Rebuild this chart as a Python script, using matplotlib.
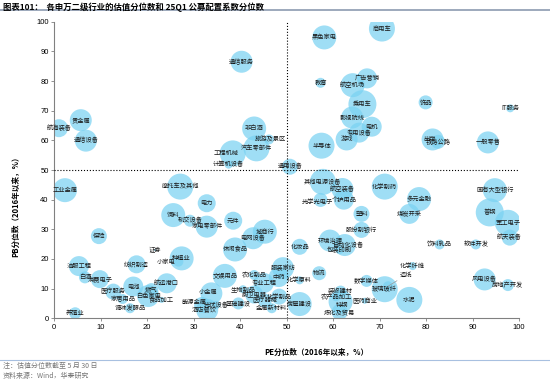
import matplotlib
matplotlib.use('Agg')
import matplotlib.pyplot as plt

plt.rcParams['font.family'] = ['Noto Sans CJK SC', 'DejaVu Sans']

# industry, PE pct, PB pct, bubble weight (fund allocation)
names = ['航海装备', '贵金属', '通信设备', '通信服务', '非白酒', '旅游及景区', '汽车零部件',
         '工程机械', '计算机设备', '通用设备', '黑色家电', '商用车', '教育', '广告营销',
         '航空机场', '乘用车', '饰品', 'IT服务', '影视院线', '电机', '专用设备', '游戏',
         '半导体', '出版', '铁路公路', '一般零售', '其他电源设备', '航空装备', '光学光电子',
         '个护用品', '化学制药', '多元金融', '国有大型银行', '塑料', '煤炭开采', '普钢',
         '军工电子', '股份制银行', '航天装备', '环境治理', '自动化设备', '包装印刷', '化妆品',
         '饮料乳品', '软件开发', '化学纤维', '物流', '造纸', '数字媒体', '玻璃玻纤', '水泥',
         '风电设备', '房地产开发', '装修建材', '农产品加工', '特钢', '医药商业', '炼化及贸易',
         '房屋建设', '化学原料', '服装家纺', '中药', '休闲食品', '文娱用品', '农化制品',
         '专业工程', '生物制品', '厨卫电器', '化学制品', '医疗器械', '基础建设', '金属新材料',
         '光伏设备', '能源金属', '小金属', '酒店餐饮', '工业金属', '摩托车及其他', '电力',
         '饲料', '轨交设备', '家电零部件', '元件', '城商行', '电网设备', '保险', '证券',
         '种植业', '小家电', '纺织制造', '油服工程', '白酒', '消费电子', '医疗服务',
         '家居用品', '电池', '燃气', '白色家电', '航运港口', '食品加工', '调味发酵品', '养殖业']
pe = [1.0, 5.7, 6.8, 40.3, 43.0, 46.2, 43.5,
      38.4, 37.5, 50.7, 58.1, 70.5, 57.3, 67.3,
      64.2, 66.3, 79.9, 98.1, 64.1, 68.3, 65.6, 62.9,
      57.5, 81.4, 82.6, 93.3, 57.8, 62.0, 57.3,
      62.3, 71.1, 78.5, 94.8, 66.1, 76.4, 93.7,
      97.6, 66.1, 98.0, 59.3, 62.5, 61.4, 52.8,
      82.9, 90.7, 77.1, 57.0, 71.8, 67.2, 71.1, 76.4,
      92.6, 97.6, 61.6, 60.6, 61.6, 66.8, 61.4,
      52.8, 52.8, 49.2, 48.3, 38.9, 36.7, 43.0,
      45.1, 40.6, 43.0, 48.4, 45.3, 39.6, 46.8,
      34.9, 31.8, 33.8, 32.9, 2.3, 27.1, 32.8,
      25.6, 29.2, 32.8, 38.5, 45.3, 42.8, 9.6, 21.7,
      27.4, 26.7, 17.7, 5.3, 6.6, 9.8, 12.7,
      14.7, 17.0, 20.9, 20.2, 24.2, 23.1, 16.3, 4.5]
pb = [64.1, 66.8, 59.9, 86.5, 64.0, 60.3, 57.3,
      55.6, 51.8, 51.1, 94.7, 97.7, 79.4, 80.9,
      78.6, 72.2, 72.8, 70.8, 67.7, 64.6, 62.6, 60.3,
      58.2, 60.3, 59.5, 59.3, 46.0, 43.6, 39.9,
      40.0, 44.4, 40.2, 43.2, 35.2, 35.2, 35.7,
      32.2, 29.8, 27.2, 26.2, 24.7, 23.0, 24.1,
      24.9, 24.9, 17.6, 15.2, 10.8, 12.6, 9.8, 6.2,
      13.1, 11.2, 9.0, 7.1, 5.6, 5.9, 2.1,
      4.8, 12.8, 16.9, 13.9, 23.2, 14.3, 14.6,
      11.9, 9.8, 8.0, 7.3, 6.0, 5.0, 3.4,
      4.5, 4.5, 8.4, 2.8, 43.2, 44.4, 38.8,
      34.8, 32.9, 30.9, 32.9, 29.2, 27.0, 27.7, 23.0,
      20.2, 19.1, 18.2, 17.6, 13.8, 13.2, 9.0,
      6.5, 10.7, 9.5, 7.5, 11.8, 6.2, 3.4, 1.7]
alloc = [9, 11, 11, 11, 12, 5, 13,
         13, 4, 8, 12, 13, 5, 10,
         12, 14, 7, 4, 11, 10, 10, 11,
         13, 11, 7, 11, 13, 11, 7,
         10, 13, 12, 12, 8, 10, 14,
         13, 8, 8, 11, 11, 4, 8,
         5, 5, 4, 7, 5, 6, 13, 13,
         11, 6, 6, 4, 12, 3, 8,
         12, 4, 11, 10, 12, 12, 5,
         10, 4, 9, 8, 7, 6, 5,
         4, 8, 11, 11, 12, 13, 9,
         12, 6, 11, 9, 12, 11, 8, 1,
         12, 5, 9, 10, 6, 9, 8,
         5, 10, 7, 11, 10, 3, 5, 6]

# label nudges in points
nudge = {'工程机械': (-5, 0), '小家电': (-9, 0), '能源金属': (-6, 2), '光学光电子': (-2, -1.5),
         '自动化设备': (3, 0), '小金属': (-2, 1), '酒店餐饮': (-2, 0), '旅游及景区': (1, 0),
         '特钢': (1, -2.5), '出版': (-2, 0)}

fig = plt.figure(figsize=(5.5, 3.81), dpi=100)
ax = fig.add_axes([0.0987, 0.1646, 0.845, 0.7784])

ax.scatter(pe, pb, s=[(a * 1.44) ** 2 for a in alloc], color='#7ad2f2', alpha=0.72,
           edgecolors='none', zorder=2)

for n in range(len(names)):
    if names[n] == '造纸':
        ax.annotate(names[n], (pe[n], pb[n]), xytext=(13, 8), textcoords='offset points',
                    fontsize=4.5, ha='center', va='center', color='#1a1a1a', zorder=4,
                    arrowprops=dict(arrowstyle='-', color='#999999', lw=0.5,
                                    shrinkA=0, shrinkB=0))
        continue
    dx, dy = nudge.get(names[n], (0, 0))
    ax.annotate(names[n], (pe[n], pb[n]), xytext=(dx, dy), textcoords='offset points',
                fontsize=4.5, ha='center', va='center', color='#1a1a1a', zorder=4)

ax.plot([50, 50], [0, 100], ':', color='black', lw=0.8, zorder=3)
ax.plot([0, 100], [50, 50], ':', color='black', lw=0.8, zorder=3)

ax.set_xlim(0, 100)
ax.set_ylim(0, 100)
ax.set_xticks(range(0, 101, 10))
ax.set_yticks(range(0, 101, 10))
for lab in ax.get_xticklabels() + ax.get_yticklabels():
    lab.set_family(['Liberation Sans', 'DejaVu Sans'])
    lab.set_fontsize(5.5)
ax.tick_params(length=2, width=0.6, color='#808080', pad=2)
for sp in ['top', 'right']:
    ax.spines[sp].set_visible(False)
for sp in ['left', 'bottom']:
    ax.spines[sp].set_color('#808080')
    ax.spines[sp].set_linewidth(0.8)

fig.text(0.005, 0.982, '图表101：  各申万二级行业的估值分位数和 25Q1 公募配置系数分位数',
         fontsize=6, fontweight='bold', va='center', ha='left')
fig.add_artist(plt.Line2D([0, 1], [0.974, 0.974], color='#8c9bb0', lw=1.2))

fig.text(0.576, 0.074, 'PE分位数（2016年以来，%）', fontsize=5.5, fontweight='bold',
         ha='center', va='center')
fig.text(0.029, 0.462, 'PB分位数（2016年以来，%）', fontsize=5.5, fontweight='bold',
         ha='center', va='center', rotation=90)
fig.add_artist(plt.Line2D([0, 1], [0.055, 0.055], color='#a8c0e0', lw=0.8))

fig.text(0.005, 0.040, '注：估值分位数截至 5 月 30 日', fontsize=5, color='#777777', va='center')
fig.text(0.005, 0.012, '资料来源：Wind，华泰研究', fontsize=5, color='#777777', va='center')

fig.savefig('out.png', dpi=100)
